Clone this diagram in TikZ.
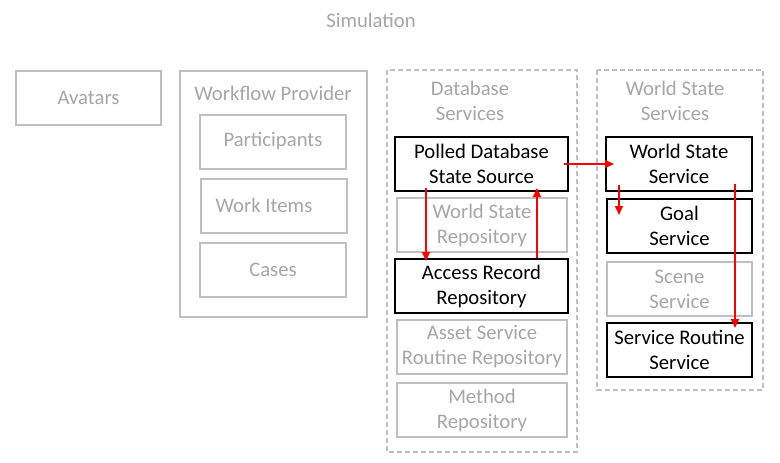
\documentclass[tikz,border=0pt]{standalone}
\usepackage{fontspec}
\setmainfont{Carlito}
\usetikzlibrary{arrows.meta}
\definecolor{boxgray}{RGB}{191,191,191}
\definecolor{textgray}{RGB}{166,166,166}
\tikzset{
  grey box/.style={draw=boxgray, line width=2pt, text=textgray, align=center,
    inner sep=0pt, minimum width=#1, minimum height=54pt},
  grey box/.default=146pt,
  black box/.style={draw=black, line width=2pt, text=black, align=center,
    inner sep=0pt, minimum width=#1, minimum height=54pt},
  black box/.default=146pt,
  group/.style={draw=boxgray, line width=1.5pt, dashed, dash pattern=on 5pt off 3pt},
  flow/.style={draw=red, line width=1.5pt, -{Triangle[length=9pt,width=8pt]}}
}
\begin{document}
\begin{tikzpicture}[x=1pt, y=-1pt, font=\fontsize{20.7}{25}\selectfont]
    \useasboundingbox (0,0) rectangle (780,463);

    \node[text=textgray] (sim) at (371, 20) {Simulation};

    \node[grey box=145pt] (avatars) at (88.5, 97.5) {Avatars};

    \draw[draw=boxgray, line width=2pt] (180, 71) rectangle (367, 317);
    \node[text=textgray] (wfp) at (273, 93) {Workflow Provider};
    \node[grey box] (part) at (273, 141.5) {Participants};
    \node[grey box] (items) at (274, 205.5) {\hspace*{-20pt}Work Items};
    \node[grey box] (cases) at (273, 269.5) {Cases};

    \draw[group] (387, 70) rectangle (577, 452);
    \node[text=textgray, align=center] (dbs) at (470, 101) {Database\\Services};
    \node[black box=173pt] (polled) at (481.5, 164) {Polled Database\\State Source};
    \node[grey box=170pt] (wsrepo) at (482, 225) {World State\\Repository};
    \node[black box=173pt] (access) at (481.5, 286) {Access Record\\Repository};
    \node[grey box=170pt] (asset) at (482, 347) {Asset Service\\Routine Repository};
    \node[grey box=170pt] (method) at (482, 410) {Method\\Repository};

    \draw[group] (597, 70) rectangle (763, 390);
    \node[text=textgray, align=center] (wss) at (675, 101) {World State\\Services};
    \node[black box] (wsserv) at (679, 164) {World State\\Service};
    \node[black box=145pt] (goal) at (679.5, 226) {Goal\\Service};
    \node[grey box=145pt] (scene) at (679.5, 289) {Scene\\Service};
    \node[black box=145pt] (routine) at (679.5, 350) {Service Routine\\Service};

    \draw[flow]
      ([xshift=32pt, yshift=4pt]polled.south west) -- ([xshift=32pt, yshift=-3pt]access.north west)
    ;
    \draw[flow]
      ([xshift=143pt]access.north west) -- ([xshift=143pt, yshift=4pt]polled.south west)
    ;
    \draw[flow]
      ([xshift=-5pt]polled.east) -- ([xshift=9pt]wsserv.west)
    ;
    \draw[flow]
      ([xshift=14pt, yshift=7pt]wsserv.south west) -- ([xshift=13pt, yshift=-17pt]goal.north west)
    ;
    \draw[flow]
      ([xshift=130pt, yshift=8pt]wsserv.south west) -- ([xshift=129pt, yshift=-6pt]routine.north west)
    ;
\end{tikzpicture}
\end{document}
